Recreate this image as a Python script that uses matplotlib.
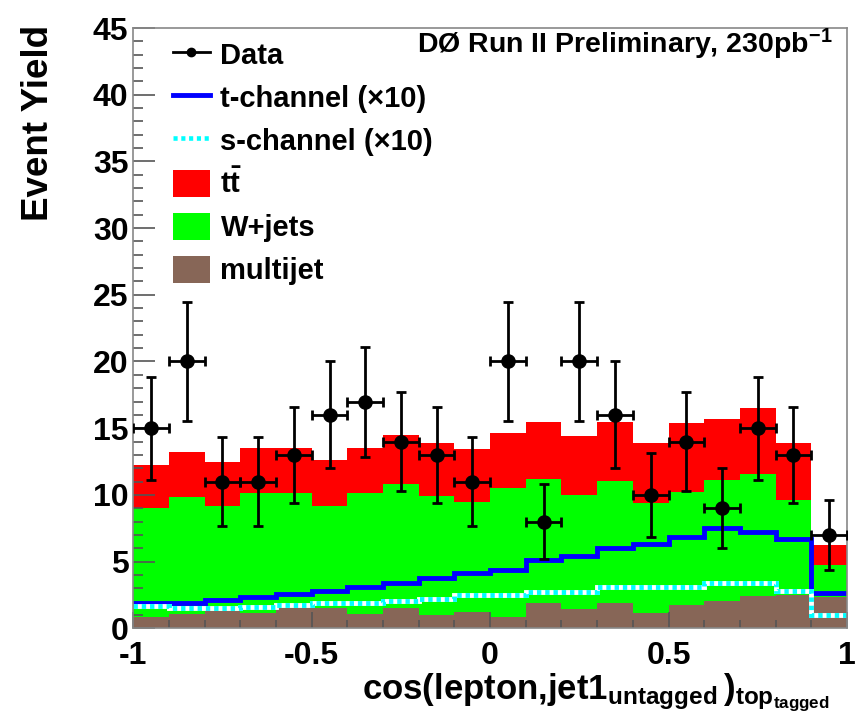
import numpy as np
import matplotlib
matplotlib.use('Agg')
import matplotlib.pyplot as plt
from matplotlib.lines import Line2D
from matplotlib.patches import Patch
from matplotlib.ticker import MultipleLocator, FuncFormatter

plt.rcParams['font.family'] = ['Liberation Sans', 'DejaVu Sans']
plt.rcParams['font.weight'] = 'bold'
plt.rcParams['mathtext.fontset'] = 'custom'
plt.rcParams['mathtext.rm'] = 'Liberation Sans:bold'
plt.rcParams['mathtext.it'] = 'Liberation Sans:bold'
plt.rcParams['mathtext.bf'] = 'Liberation Sans:bold'

# binning: 20 bins in cos(lepton, jet1) from -1 to 1
bin_edges = np.linspace(-1.0, 1.0, 21)

# backgrounds (stacked)
multijet = [0.87, 1.05, 1.30, 1.17, 1.50, 1.50, 1.05, 1.50, 1.00, 1.24,
            0.87, 1.92, 1.42, 1.92, 1.17, 1.75, 2.07, 2.42, 2.50, 2.37]
wjets = [8.13, 8.82, 7.89, 8.95, 8.62, 7.67, 9.07, 9.29, 8.92, 8.25,
         9.62, 9.27, 8.57, 9.14, 8.20, 8.49, 9.05, 9.12, 7.12, 2.38]
ttbar = [3.24, 3.37, 3.30, 3.37, 3.37, 3.45, 3.42, 3.70, 3.95, 3.95,
         4.13, 4.30, 4.43, 4.43, 4.54, 5.13, 4.55, 5.00, 4.29, 1.49]

# signals, already scaled x10
tchan_x10 = [1.92, 1.92, 2.12, 2.37, 2.57, 2.80, 3.07, 3.37, 3.75, 4.17,
             4.37, 5.12, 5.42, 6.04, 6.30, 6.87, 7.50, 7.24, 6.67, 2.62]
schan_x10 = [1.67, 1.54, 1.54, 1.62, 1.75, 1.87, 1.92, 2.07, 2.20, 2.50,
             2.50, 2.74, 2.74, 3.12, 3.12, 3.12, 3.37, 3.37, 2.82, 1.00]

# data counts
data = [15, 20, 11, 11, 13, 16, 17, 14, 13, 11,
        20, 8, 20, 16, 10, 14, 9, 15, 13, 7]

multijet = np.array(multijet)
wjets = np.array(wjets)
ttbar = np.array(ttbar)
data = np.array(data)
centers = 0.5 * (bin_edges[1:] + bin_edges[:-1])
half_width = 0.5 * np.diff(bin_edges)

fig = plt.figure(figsize=(8.66, 7.22), dpi=100)
ax = fig.add_axes([0.1539, 0.1298, 0.8241, 0.8314])

# stack, drawn from the top down so no seams
ax.stairs(multijet + wjets + ttbar, bin_edges, baseline=0, fill=True,
          color='#ff0000', lw=0, zorder=1)
ax.stairs(multijet + wjets, bin_edges, baseline=0, fill=True,
          color='#00ff00', lw=0, zorder=1.1)
ax.stairs(multijet, bin_edges, baseline=0, fill=True,
          color='#876657', lw=0, zorder=1.2)

ax.stairs(tchan_x10, bin_edges, baseline=None, color='#0000ff', lw=3.5, zorder=2)
ax.stairs(schan_x10, bin_edges, baseline=None, color='white', lw=3.5, zorder=2.1)
ax.stairs(schan_x10, bin_edges, baseline=None, color='#00ffff', lw=3.5,
          ls=(0, (0.9, 0.8)), zorder=2.2)

ax.errorbar(centers, data, xerr=half_width, yerr=np.sqrt(data), fmt='o',
            color='k', ms=9.5, elinewidth=2, capsize=3.5, capthick=2, zorder=5)

ax.set_xlim(-1, 1)
ax.set_ylim(0, 45)
ax.xaxis.set_major_locator(MultipleLocator(0.5))
ax.xaxis.set_minor_locator(MultipleLocator(0.1))
ax.yaxis.set_major_locator(MultipleLocator(5))
ax.yaxis.set_minor_locator(MultipleLocator(1))
ax.xaxis.set_major_formatter(FuncFormatter(lambda v, p: '%g' % v))
ax.yaxis.set_major_formatter(FuncFormatter(lambda v, p: '%g' % v))

ax.tick_params(axis='both', which='both', direction='in', colors='#555555',
               labelcolor='k', labelsize=23, top=False, right=False)
ax.tick_params(axis='x', which='major', length=11.5, width=1.2, pad=9)
ax.tick_params(axis='x', which='minor', length=6, width=1.2)
ax.tick_params(axis='y', which='major', length=16, width=1.2, pad=3.5)
ax.tick_params(axis='y', which='minor', length=7.5, width=1.2)
for lab in ax.get_xticklabels() + ax.get_yticklabels():
    lab.set_fontweight('bold')
for s in ax.spines.values():
    s.set_color('#888888')
    s.set_linewidth(1.2)

fig.text(0.045, 0.9654, 'Event Yield', rotation=90, ha='center', va='top',
         fontsize=26.5, fontweight='bold')
ax.text(0.976, -0.119,
        r'cos(lepton,$\mathrm{jet1}_{\mathrm{untagged}}\,)_{\mathrm{top}_{\mathrm{tagged}}}$',
        transform=ax.transAxes, ha='right', va='baseline', fontsize=25,
        fontweight='bold')

ax.text(0.980, 0.9584, r'DØ Run II Preliminary, 230pb$^{-1}$',
        transform=ax.transAxes, ha='right', va='baseline', fontsize=20.5,
        fontweight='bold')

handles = [
    Line2D([], [], color='k', marker='o', ms=6, lw=2),
    Line2D([], [], color='#0000ff', lw=3.5),
    Line2D([], [], color='#00ffff', lw=3.3, ls=(0, (0.9, 0.8))),
    Patch(facecolor='#ff0000', edgecolor='none'),
    Patch(facecolor='#00ff00', edgecolor='none'),
    Patch(facecolor='#876657', edgecolor='none'),
]
labels = ['Data', 't-channel (\u00d710)', 's-channel (\u00d710)',
          r't$\bar{\mathrm{t}}$', 'W+jets', 'multijet']
ax.legend(handles, labels, loc='upper left', bbox_to_anchor=(0.0556, 0.98),
          frameon=False, prop={'size': 21, 'weight': 'bold'},
          handlelength=1.27, handleheight=1.06, handletextpad=0.36,
          labelspacing=0.46, borderpad=0, borderaxespad=0)

fig.savefig('out.png', dpi=100)
